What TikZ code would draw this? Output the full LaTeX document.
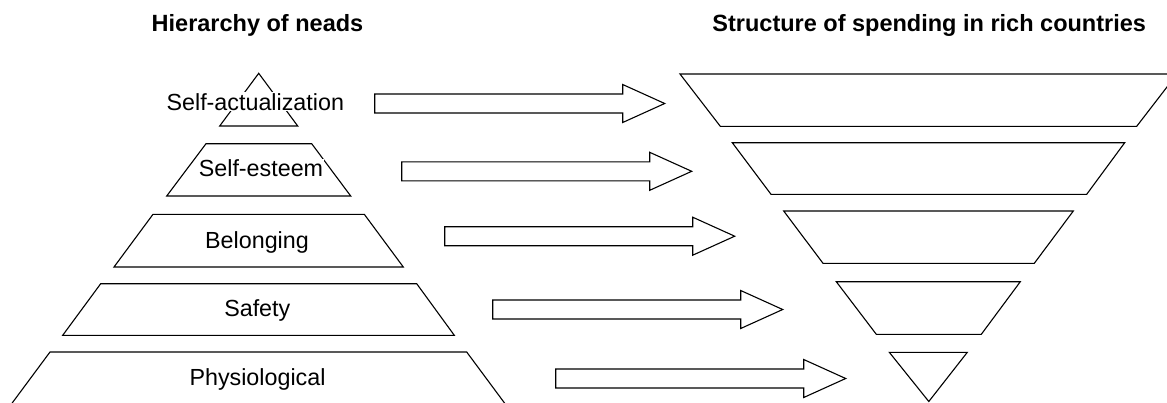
\documentclass[tikz,border=0pt]{standalone}
\usepackage{fontspec}
\setmainfont{Liberation Sans}
\begin{document}
\begin{tikzpicture}[x=1pt,y=-1pt,
  shapeline/.style={draw=black, line width=1.1pt, line join=miter},
  lbl/.style={fill=white, inner sep=1pt, anchor=base, font=\fontsize{23.3}{28}\selectfont},
  ttl/.style={anchor=base, inner sep=0pt, font=\fontsize{23.5}{28}\selectfont\bfseries},
  blockarrow/.pic={
    \draw[shapeline] (0,-9.5) -- (248,-9.5) -- (248,-19) -- (290,0) -- (248,19) -- (248,9.5) -- (0,9.5) -- cycle;
  }]
\useasboundingbox (0,0) rectangle (1167,402);
\fill[white] (0,0) rectangle (1167,402);
\clip (0,0) rectangle (1167,402);

% titles
\node[ttl] (t1) at (257.5,31.7) {Hierarchy of neads};
\node[ttl] (t2) at (929.2,31.7) {Structure of spending in rich countries};

% left pyramid
\draw[shapeline] (258.7,73.3) -- (297.7,126) -- (219.7,126) -- cycle;
\draw[shapeline] (206,143.7) -- (311.7,143.7) -- (350.7,196) -- (166.7,196) -- cycle;
\draw[shapeline] (153,214.3) -- (364.3,214.3) -- (403.3,267) -- (114,267) -- cycle;
\draw[shapeline] (100.7,283.7) -- (416.7,283.7) -- (454.3,335.3) -- (62.7,335.3) -- cycle;
\draw[shapeline] (50,352) -- (466.7,352) -- (506,405) -- (10.7,405) -- cycle;

\node[lbl] (l1) at (255.3,110) {Self-actualization};
\node[lbl] (l2) at (261,176.7) {Self-esteem};
\node[lbl] (l3) at (257,248.3) {Belonging};
\node[lbl] (l4) at (257.3,316.7) {Safety};
\node[lbl] (l5) at (257.5,385) {Physiological};

% right inverted pyramid
\draw[shapeline] (680,74) -- (1177,74) -- (1136.7,126.3) -- (720.3,126.3) -- cycle;
\draw[shapeline] (732.3,142.7) -- (1124.7,142.7) -- (1086.7,194.3) -- (771,194.3) -- cycle;
\draw[shapeline] (783.7,211) -- (1073.3,211) -- (1034.3,263.3) -- (823,263.3) -- cycle;
\draw[shapeline] (836.3,281.7) -- (1020.3,281.7) -- (981.3,334.3) -- (876.3,334.3) -- cycle;
\draw[shapeline] (889.3,352.3) -- (967.3,352.3) -- (928.8,401.5) -- cycle;

% arrows
\coordinate (a1) at (374.7,103.5);
\coordinate (a2) at (401.7,171.3);
\coordinate (a3) at (444.7,236.2);
\coordinate (a4) at (492.7,309.5);
\coordinate (a5) at (555.7,378.5);
\foreach \c in {a1,a2,a3,a4,a5} { \pic at (\c) {blockarrow}; }
\end{tikzpicture}
\end{document}
